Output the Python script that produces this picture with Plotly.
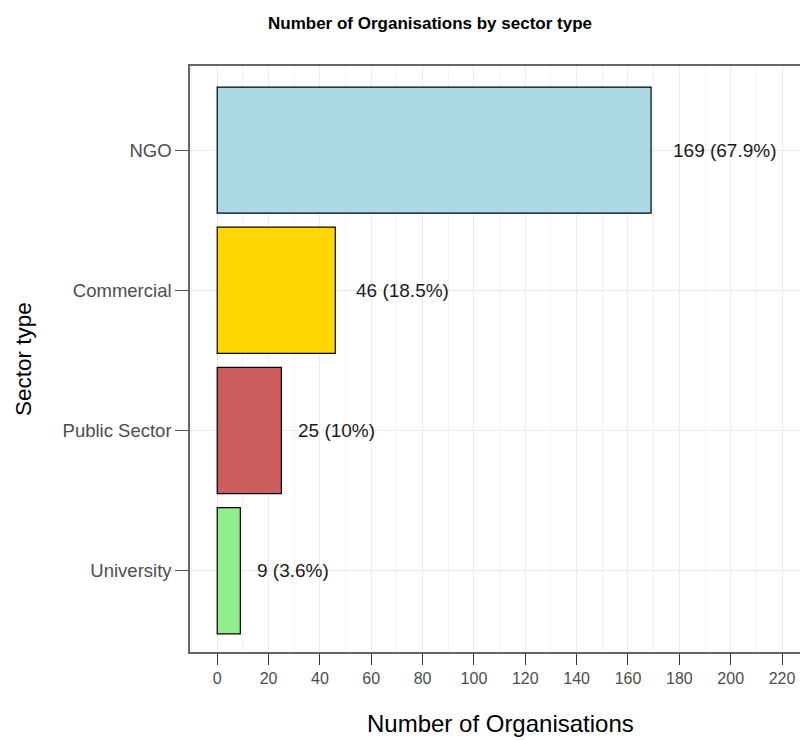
import plotly.graph_objects as go

# Organisations by sector type
sectors = ["University", "Public Sector", "Commercial", "NGO"]
counts = [9, 25, 46, 169]
percents = ["3.6%", "10%", "18.5%", "67.9%"]
bar_colors = ["#90EE90", "#CD5C5C", "#FFD700", "#ADD8E6"]
x_ticks = list(range(0, 221, 20))

FONT = "Liberation Sans, Arial, sans-serif"
labels = [f"{c} ({p})" for c, p in zip(counts, percents)]

fig = go.Figure()
fig.add_trace(go.Bar(
    x=counts,
    y=sectors,
    orientation="h",
    width=0.9,
    marker=dict(color=bar_colors, line=dict(color="black", width=1.2)),
    hoverinfo="skip",
))

# value labels placed just right of each bar end
for c, s, lab in zip(counts, sectors, labels):
    fig.add_annotation(
        x=c, y=s, text=lab, showarrow=False,
        xanchor="left", yanchor="middle",
        xshift=1.85 * len(lab),
        font=dict(family=FONT, size=19, color="#1a1a1a"),
    )

fig.update_layout(
    width=800, height=740,
    margin=dict(l=190, r=0, t=66, b=88),
    plot_bgcolor="white", paper_bgcolor="white",
    showlegend=False,
    title=dict(
        text="<b>Number of Organisations by sector type</b>",
        x=430 / 800, xanchor="center", xref="paper" if False else "container",
        y=1 - 23 / 740, yanchor="middle",
        font=dict(family=FONT, size=17, color="black"),
    ),
    font=dict(family=FONT),
)

fig.update_xaxes(
    range=[-10.6, 227],
    tickvals=x_ticks,
    ticks="outside", ticklen=11, tickwidth=1.2, tickcolor="#333333",
    tickfont=dict(family=FONT, size=16, color="#4D4D4D"),
    showgrid=True, gridcolor="#EBEBEB", gridwidth=1,
    minor=dict(dtick=10, tick0=0, showgrid=True, gridcolor="#F2F2F2", gridwidth=0.8),
    showline=True, linecolor="#666666", linewidth=1.5, mirror=True,
    zeroline=False,
    title=None,
)
fig.update_yaxes(
    categoryorder="array", categoryarray=sectors,
    range=[-0.58, 3.6],
    ticks="outside", ticklen=13, tickwidth=1.2, tickcolor="#555555",
    tickfont=dict(family=FONT, size=18.5, color="#4D4D4D"),
    showgrid=True, gridcolor="#EBEBEB", gridwidth=1,
    showline=True, linecolor="#666666", linewidth=1.5, mirror=False,
    zeroline=False,
    title=None,
)

# axis titles
fig.add_annotation(
    text="Number of Organisations", xref="paper", yref="paper",
    x=(500 - 190) / 610, y=-(723 - 652) / 586, xanchor="center", yanchor="middle",
    showarrow=False, font=dict(family=FONT, size=24, color="black"),
)
fig.add_annotation(
    text="Sector type", xref="paper", yref="paper",
    x=-(190 - 23) / 610, y=0.5, xanchor="center", yanchor="middle",
    textangle=-90, showarrow=False, font=dict(family=FONT, size=22.5, color="black"),
)

fig.write_html("out.html")
